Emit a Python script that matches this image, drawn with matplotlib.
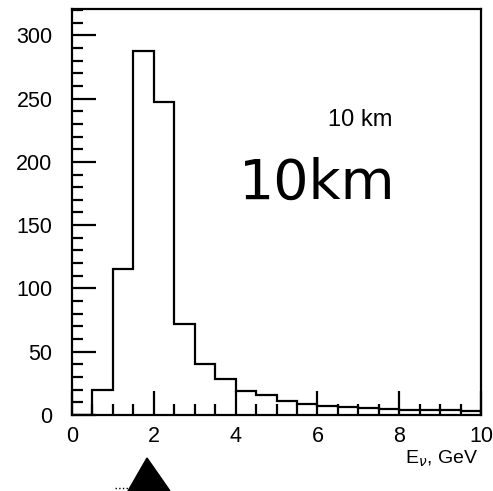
import numpy as np
import matplotlib
matplotlib.use("Agg")
import matplotlib.pyplot as plt
from matplotlib.ticker import MultipleLocator
from matplotlib.patches import Polygon
from matplotlib.lines import Line2D

# Histogram data (bin edges in GeV, counts per bin)
bin_edges = [0.0, 0.5, 1.0, 1.5, 2.0, 2.5, 3.0, 3.5, 4.0, 4.5, 5.0,
             5.5, 6.0, 6.5, 7.0, 7.5, 8.0, 8.5, 9.0, 9.5, 10.0]
counts = [0, 20, 115, 288, 247, 72, 40, 28, 19, 16, 11,
          9, 7, 6.5, 5.5, 4.5, 4, 3.5, 3.5, 3]
x_ticks = [0, 2, 4, 6, 8, 10]
y_ticks = [0, 50, 100, 150, 200, 250, 300]

plt.rcParams['font.family'] = ['Liberation Sans', 'DejaVu Sans']

W, H = 493, 491
fig = plt.figure(figsize=(W / 100, H / 100), dpi=100)
ax = fig.add_axes([0.146, 0.155, 0.830, 0.827])

ax.stairs(counts, bin_edges, color='black', linewidth=1.6)

ax.set_xlim(0, 10)
ax.set_ylim(0, 321)
ax.set_xticks(x_ticks)
ax.set_yticks(y_ticks)
ax.xaxis.set_minor_locator(MultipleLocator(0.5))
ax.yaxis.set_minor_locator(MultipleLocator(10))
ax.tick_params(which='both', direction='in', top=False, right=False,
               labelsize=15.5, width=1.6)
ax.tick_params(which='major', length=17)
ax.tick_params(which='minor', length=8)
ax.tick_params(axis='y', pad=14)
ax.tick_params(axis='x', pad=8)
for lab in ax.get_xticklabels() + ax.get_yticklabels():
    lab.set_fontweight('medium')
for s in ax.spines.values():
    s.set_linewidth(1.6)

ax.text(7.05, 233, "10 km", fontsize=17, ha='center', va='center')
ax.text(6.0, 183, "10km", fontsize=40, ha='center', va='center',
        family=['DejaVu Sans'])

fig.text(0.895, 0.066, r"E$_\nu$, GeV", fontsize=14, ha='center', va='center')

# hand-drawn triangle mark below the axis
tri = Polygon([(147 / W, 1 - 458 / H), (128 / W, 0.0), (170 / W, 0.0)],
              closed=True, transform=fig.transFigure, facecolor='black',
              edgecolor='black')
fig.patches.append(tri)
fig.lines.append(Line2D([115 / W, 132 / W], [1 - 488 / H, 1 - 488 / H],
                        transform=fig.transFigure, color='black',
                        linewidth=1, linestyle=':'))

fig.savefig("out.png", dpi=100)
